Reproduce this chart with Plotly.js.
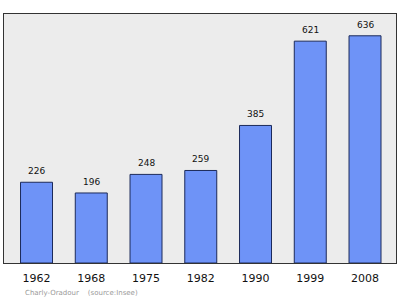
<!DOCTYPE html>
<html><head><meta charset="utf-8">
<script src="https://cdn.plot.ly/plotly-3.0.1.min.js"></script>
<style>body{margin:0;background:#fff}#c{width:400px;height:299px}</style>
</head><body><div id="c"></div>
<script>
const years = ["1962","1968","1975","1982","1990","1999","2008"];
const population = [226,196,248,259,385,621,636];
const sourceText = "Charly-Oradour    (source:Insee)";

const trace = {
  type: "bar", x: years, y: population,
  marker: {color: "#6e93f7", line: {color: "#1c2a5a", width: 1}},
  hoverinfo: "none"
};
const anns = years.map((yr, i) => ({
  x: i, y: population[i], xref: "x", yref: "y", text: String(population[i]),
  showarrow: false, yanchor: "bottom", yshift: 4,
  font: {family: "DejaVu Sans", size: 9, color: "#111"}
}));
anns.push({
  xref: "paper", yref: "paper", x: 0.048, y: -0.119, xanchor: "left", yanchor: "middle",
  text: sourceText, showarrow: false,
  font: {family: "DejaVu Sans", size: 7, color: "#999"}
});
const layout = {
  width: 400, height: 299,
  margin: {l: 4, r: 4, t: 14, b: 36, pad: 0},
  paper_bgcolor: "#fff", plot_bgcolor: "#ececec",
  bargap: 0.416, showlegend: false,
  xaxis: {type: "category", range: [-0.594, 6.566], showline: true, mirror: true,
    linecolor: "#333", linewidth: 1, showgrid: false, ticks: "outside", ticklen: 5,
    tickcolor: "rgba(0,0,0,0)", zeroline: false,
    tickfont: {family: "DejaVu Sans", size: 11, color: "#111"}},
  yaxis: {range: [0, 697], showline: true, mirror: true, linecolor: "#333", linewidth: 1,
    showgrid: false, showticklabels: false, ticks: "", zeroline: false},
  annotations: anns
};
Plotly.newPlot("c", [trace], layout, {staticPlot: true});
</script></body></html>
